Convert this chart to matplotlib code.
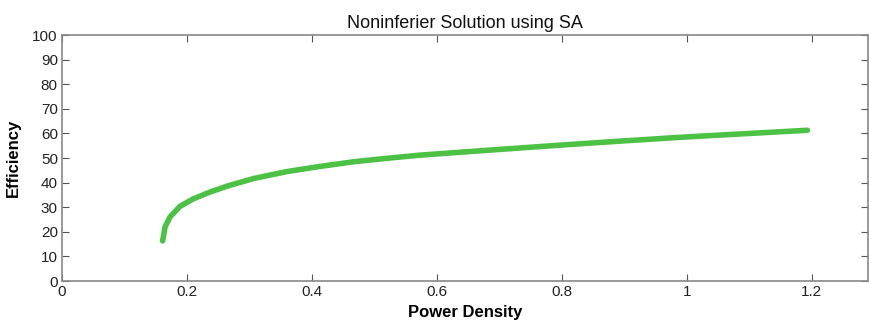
import numpy as np
from matplotlib import pyplot as plt

plt.rcParams['font.family'] = ['Liberation Sans', 'DejaVu Sans']

power_density = [0.161, 0.165, 0.173, 0.189, 0.210, 0.237, 0.267, 0.307, 0.360, 0.413,
                 0.467, 0.520, 0.574, 0.694, 0.800, 0.894, 1.000, 1.100, 1.193]
efficiency = [16.3, 22.1, 26.1, 30.4, 33.4, 36.2, 38.8, 41.7, 44.5, 46.6,
              48.5, 49.9, 51.2, 53.4, 55.3, 56.9, 58.6, 60.0, 61.3]
x_ticks = [0, 0.2, 0.4, 0.6, 0.8, 1, 1.2]
x_labels = ['0', '0.2', '0.4', '0.6', '0.8', '1', '1.2']
y_ticks = list(range(0, 101, 10))


def plot_front():
    fig = plt.figure(figsize=(8.7, 3.31), dpi=100)
    ax = fig.add_axes([0.0713, 0.151, 0.9264, 0.743])
    ax.plot(power_density, efficiency, color='#4cc244', linewidth=4,
            solid_capstyle='round', solid_joinstyle='round')
    ax.set_xlim(0, 1.29)
    ax.set_ylim(0, 100)
    ax.set_xticks(x_ticks)
    ax.set_xticklabels(x_labels)
    ax.set_yticks(y_ticks)
    ax.tick_params(direction='in', top=True, right=True, length=5,
                   color='#555555', labelsize=11, labelcolor='#222222', pad=3)
    for s in ax.spines.values():
        s.set_color('#888888')
        s.set_linewidth(1.2)
    ax.set_title('Noninferier Solution using SA', fontsize=13, pad=5, color='#111111')
    ax.set_xlabel('Power Density', fontsize=12, fontweight='bold', labelpad=4)
    ax.set_ylabel('Efficiency', fontsize=12, fontweight='bold', labelpad=8)
    fig.savefig('out.png', dpi=100)


if __name__ == "__main__":
    plot_front()
